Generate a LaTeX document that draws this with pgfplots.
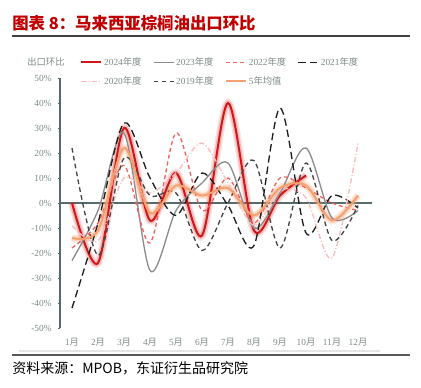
\documentclass[border=0pt]{standalone}
\usepackage{fontspec}
\setmainfont{Liberation Serif}
\newfontfamily\cjk{Noto Sans CJK SC}
\usepackage{pgfplots}
\pgfplotsset{compat=1.18}
\definecolor{c24}{HTML}{D01818}
\definecolor{c23}{HTML}{8C8C8C}
\definecolor{c22}{HTML}{F06464}
\definecolor{c21}{HTML}{1E1E1E}
\definecolor{c20}{HTML}{F8BDBD}
\definecolor{c19}{HTML}{454545}
\definecolor{cav}{HTML}{F4A070}
\definecolor{axc}{HTML}{566B6B}
\definecolor{tickc}{HTML}{7F8A8A}
\definecolor{titlec}{HTML}{C00000}
\newcommand{\zh}[1]{{\cjk #1}}
\newcommand{\lgbox}[1]{\makebox[34pt][l]{#1}}
\begin{document}
\begin{tikzpicture}
\path[use as bounding box] (0pt,0pt) rectangle (315.75pt,290.25pt);
\node[anchor=west,text=titlec,font=\cjk\bfseries\fontsize{12.3}{14}\selectfont,inner sep=0] at (9pt,273pt) {图表 8：马来西亚棕榈油出口环比};
\draw[line width=0.8pt,color=black!75] (9pt,263.25pt) -- (307.5pt,263.25pt);
\node[anchor=west,text=tickc,font=\cjk\fontsize{7}{8}\selectfont,inner sep=0] at (20.25pt,243.75pt) {出口环比};
\begin{axis}[
  at={(45pt,44.25pt)}, anchor=south west,
  scale only axis, width=234pt, height=187.5pt,
  xmin=0.538, xmax=12.538, ymin=-50, ymax=50,
  axis y line*=left, axis x line*=bottom,
  x axis line style={draw=none},
  y axis line style={draw=axc,line width=0.8pt},
  xtick={1,...,12},
  xticklabels={1\zh{月},2\zh{月},3\zh{月},4\zh{月},5\zh{月},6\zh{月},7\zh{月},8\zh{月},9\zh{月},10\zh{月},11\zh{月},12\zh{月}},
  xtick style={draw=none},
  ytick={-50,-40,...,50},
  yticklabels={-50\%,-40\%,-30\%,-20\%,-10\%,0\%,10\%,20\%,30\%,40\%,50\%},
  ytick style={draw=axc,line width=0.6pt},
  tick align=outside, major tick length=1.8pt,
  ticklabel style={font=\fontsize{7}{8}\selectfont,text=tickc},
  xticklabel style={anchor=center,yshift=-9pt},
  yticklabel style={anchor=east,xshift=-1pt},
  legend columns=4,
  legend image code/.code={\draw[#1] (0pt,0pt) -- (15pt,0pt);},
  legend style={at={(axis description cs:0.064,1.092)},anchor=north west,draw=none,fill=none,
    font=\fontsize{7}{8}\selectfont,text=tickc,inner sep=0pt,row sep=4pt,
    nodes={inner sep=1.5pt},
    /tikz/every even column/.append style={column sep=1pt}},
  smooth, tension=0.5,
]
\draw[axc,line width=0.8pt] (axis cs:0.538,0) -- (axis cs:12.538,0);
% halos
\addplot[forget plot,smooth,c24,opacity=0.12,line width=6pt] coordinates {(1,0)(2,-24)(3,30)(4,-7)(5,12)(6,-13)(7,40)(8,-11)(9,3)(10,11)};
\addplot[forget plot,smooth,c24,opacity=0.2,line width=3.8pt] coordinates {(1,0)(2,-24)(3,30)(4,-7)(5,12)(6,-13)(7,40)(8,-11)(9,3)(10,11)};
\addplot[forget plot,smooth,cav,opacity=0.18,line width=6pt] coordinates {(1,-14)(2,-11)(3,22)(4,-4)(5,7)(6,3)(7,6)(8,-5)(9,6)(10,7)(11,-7)(12,3)};
\addplot[forget plot,smooth,cav,opacity=0.3,line width=3.8pt] coordinates {(1,-14)(2,-11)(3,22)(4,-4)(5,7)(6,3)(7,6)(8,-5)(9,6)(10,7)(11,-7)(12,3)};
% series
\addplot[smooth,c24,line width=1.5pt] coordinates {(1,0)(2,-24)(3,30)(4,-7)(5,12)(6,-13)(7,40)(8,-11)(9,3)(10,11)};
\addlegendentry{\lgbox{2024\zh{年度}}}
\addplot[smooth,c23,line width=1pt] coordinates {(1,-23)(2,-3)(3,28)(4,-27)(5,-3)(6,8)(7,16)(8,-10)(9,4)(10,22)(11,-6)(12,-3)};
\addlegendentry{\lgbox{2023\zh{年度}}}
\addplot[smooth,c22,line width=1pt,dash pattern=on 3pt off 2.2pt] coordinates {(1,-18)(2,-8)(3,15)(4,-16)(5,28)(6,-3)(7,10)(8,-8)(9,10)(10,6)(11,0)(12,-3)};
\addlegendentry{\lgbox{2022\zh{年度}}}
\addplot[smooth,c21,line width=1pt,dash pattern=on 5.5pt off 3pt] coordinates {(1,-42)(2,-8)(3,32)(4,10)(5,-5)(6,12)(7,-1)(8,-17)(9,38)(10,-12)(11,3)(12,-2)};
\addlegendentry{\lgbox{2021\zh{年度}}}
\addplot[smooth,c20,line width=1pt,dash pattern=on 4pt off 1.6pt on 0.8pt off 1.6pt] coordinates {(1,-9)(2,-15)(3,10)(4,4)(5,12)(6,24)(7,8)(8,-9)(9,5)(10,2)(11,-22)(12,24)};
\addlegendentry{\lgbox{2020\zh{年度}}}
\addplot[smooth,c19,line width=1pt,dash pattern=on 3.5pt off 2.5pt] coordinates {(1,22)(2,-21)(3,18)(4,3)(5,4)(6,-19)(7,0)(8,17)(9,-18)(10,16)(11,-15)(12,-1)};
\addlegendentry{\lgbox{2019\zh{年度}}}
\addplot[smooth,cav,line width=1.5pt] coordinates {(1,-14)(2,-11)(3,22)(4,-4)(5,7)(6,3)(7,6)(8,-5)(9,6)(10,7)(11,-7)(12,3)};
\addlegendentry{\lgbox{5\zh{年均值}}}
\end{axis}
\draw[line width=1.5pt,color=black!10] (14.25pt,27pt) -- (285pt,27pt);
\draw[line width=1.1pt,color=black!65] (9pt,24pt) -- (307.5pt,24pt);
\node[anchor=west,font=\cjk\fontsize{10.5}{12}\selectfont,inner sep=0] at (9pt,14.25pt) {资料来源：MPOB，东证衍生品研究院};
\end{tikzpicture}
\end{document}
